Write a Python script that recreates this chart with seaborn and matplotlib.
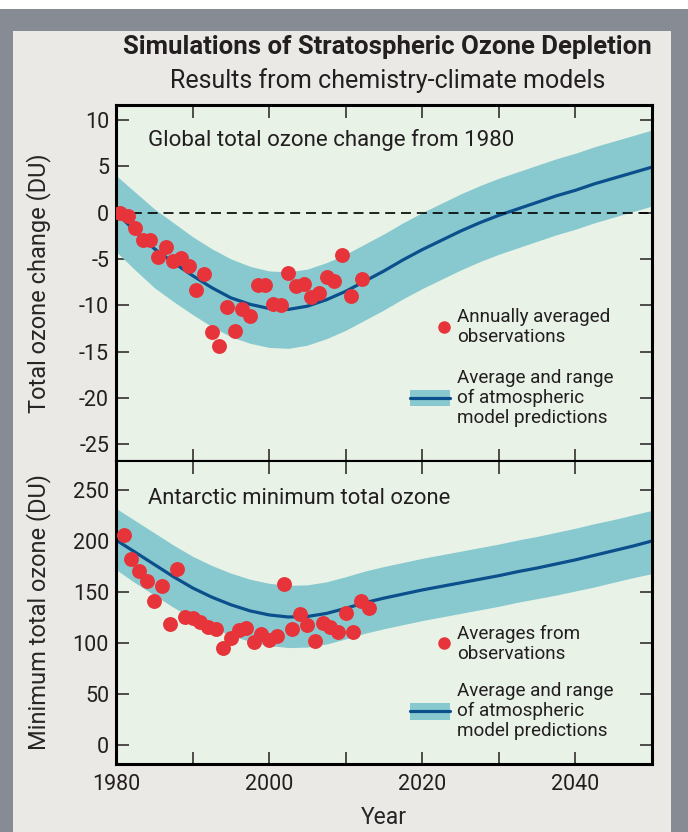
"""Simulations of stratospheric ozone depletion: two stacked panels with model band and observations."""
import matplotlib

matplotlib.use("Agg")
import matplotlib.pyplot as plt
from matplotlib.legend_handler import HandlerLine2D
from matplotlib.lines import Line2D
from matplotlib.patches import Patch, Rectangle
import seaborn as sns

# --- data ---
model_years = [1980, 1982.5, 1985, 1987.5, 1990, 1992.5, 1995, 1997.5, 2000, 2002.5,
               2005, 2007.5, 2010, 2012.5, 2015, 2017.5, 2020, 2022.5, 2025, 2027.5,
               2030, 2032.5, 2035, 2037.5, 2040, 2042.5, 2045, 2047.5, 2050]

global_mean = [0.0, -2.0, -3.9, -5.4, -6.8, -8.1, -9.2, -9.9, -10.35, -10.45,
               -10.1, -9.4, -8.5, -7.4, -6.3, -5.1, -4.0, -3.0, -2.0, -1.1,
               -0.3, 0.4, 1.1, 1.8, 2.4, 3.1, 3.7, 4.3, 4.9]
global_upper = [4.0, 2.2, 0.4, -1.1, -2.6, -3.9, -5.0, -5.8, -6.3, -6.4,
                -6.1, -5.4, -4.5, -3.4, -2.3, -1.1, 0.0, 1.0, 2.0, 2.9,
                3.7, 4.4, 5.1, 5.8, 6.4, 7.1, 7.7, 8.3, 8.9]
global_lower = [-4.2, -6.2, -8.1, -9.6, -11.0, -12.3, -13.4, -14.1, -14.55, -14.65,
                -14.3, -13.6, -12.7, -11.6, -10.5, -9.3, -8.2, -7.2, -6.2, -5.3,
                -4.5, -3.8, -3.1, -2.4, -1.8, -1.1, -0.5, 0.1, 0.7]

global_obs_years = [1980.5, 1981.6, 1982.5, 1983.5, 1984.5, 1985.5, 1986.5, 1987.5, 1988.5, 1989.5,
                    1990.5, 1991.5, 1992.5, 1993.5, 1994.5, 1995.5, 1996.5, 1997.5, 1998.5, 1999.5,
                    2000.5, 2001.5, 2002.5, 2003.5, 2004.5, 2005.5, 2006.5, 2007.5, 2008.5, 2009.5,
                    2010.7, 2012.1]
global_obs = [0.0, -0.4, -1.7, -3.0, -3.0, -4.75, -3.7, -5.2, -4.9, -5.75,
              -8.35, -6.65, -12.9, -14.4, -10.15, -12.8, -10.4, -11.2, -7.8, -7.8,
              -9.85, -10.0, -6.55, -7.9, -7.7, -9.1, -8.7, -6.9, -7.4, -4.6,
              -9.0, -7.2]

antarctic_mean = [201, 189, 177, 165, 154, 145, 137.5, 131.5, 127.5, 125.5,
                  126, 129, 134, 139.5, 144, 148, 152, 155.5, 159, 162.5,
                  166, 170, 173.5, 177.5, 181.5, 186, 190.5, 195, 200]
antarctic_upper = [232, 220, 208, 196, 185, 176, 168.5, 162.5, 158.5, 156.5,
                   157, 160, 165, 170.5, 175, 179, 183, 186.5, 190, 193.5,
                   197, 201, 204.5, 208.5, 212.5, 217, 221, 225.5, 230]
antarctic_lower = [172, 159, 147, 135, 124, 115, 107.5, 101.5, 97.5, 95.5,
                   96, 99, 104, 109.5, 114, 118, 122, 125.5, 129, 132.5,
                   136, 140, 143.5, 147, 151, 155, 159.5, 164, 168]

antarctic_obs_years = list(range(1981, 2014))
antarctic_obs = [206, 182.6, 170.3, 161, 141.5, 155.8, 118.6, 172.2, 125.8, 124.5,
                 120.8, 116, 113.6, 94.9, 105.2, 112.6, 114.6, 100.8, 108.7, 102.8,
                 107.2, 158, 114, 128.1, 117.3, 102.3, 119.8, 116, 110.7, 129.4,
                 111, 141.2, 134]

year_ticks = list(range(1980, 2051, 10))
year_labels = ["1980", "", "2000", "", "2020", "", "2040", ""]

# --- style ---
RED = "#e6343a"
BAND = "#88c9cf"
BLUE = "#0b4f8c"
INK = "#231f20"
PANEL_BG = "#e8f2e7"

sns.set_theme(style="white")
plt.rcParams["font.family"] = ["Liberation Sans Narrow", "Roboto", "DejaVu Sans"]
plt.rcParams["axes.unicode_minus"] = False
plt.rcParams["text.color"] = INK


class RightDotHandler(HandlerLine2D):
    """Legend dot drawn near the right end of the key box, as in the original."""

    def get_xdata(self, legend, xdescent, ydescent, width, height, fontsize):
        # the single marker sits at the middle of this span
        x0 = -xdescent + 0.72 * width
        x1 = -xdescent + width
        return [x0, x1], [0.5 * (x0 + x1)]


fig = plt.figure(figsize=(6.88, 8.32), dpi=100, facecolor="white")
fig.patches.append(Rectangle((0, 0), 1, 1 - 9 / 832, transform=fig.transFigure,
                             facecolor="#878c94", edgecolor="none", zorder=-2))
fig.patches.append(Rectangle((13 / 688, 0), (671 - 13) / 688, 1 - 31 / 832, transform=fig.transFigure,
                             facecolor="#ebe9e5", edgecolor="none", zorder=-1))

left, width = 116 / 688, (652 - 116) / 688
ax_top = fig.add_axes([left, 1 - 461 / 832, width, (461 - 105) / 832])
ax_bot = fig.add_axes([left, 1 - 764 / 832, width, (764 - 461) / 832])


def draw_panel(ax, mean, upper, lower, obs_years, obs):
    ax.set_facecolor(PANEL_BG)
    ax.fill_between(model_years, lower, upper, color=BAND, linewidth=0, zorder=1)
    sns.lineplot(x=model_years, y=mean, color=BLUE, linewidth=2.3, ax=ax, zorder=2)
    sns.scatterplot(x=obs_years, y=obs, color=RED, s=115, linewidth=0, ax=ax, zorder=3)
    ax.set_xlim(1980, 2050)
    ax.set_xticks(year_ticks)
    for side in ax.spines.values():
        side.set_color("black")
        side.set_linewidth(2.2)
        side.set_visible(True)
    ax.tick_params(axis="both", which="major", direction="in", length=9, width=1.1,
                   color=INK, labelsize=15.5, labelcolor=INK, pad=5,
                   left=True, right=True, top=True, bottom=True)
    ax.tick_params(axis="x", pad=7)


draw_panel(ax_top, global_mean, global_upper, global_lower, global_obs_years, global_obs)
ax_top.axhline(0, color="black", linestyle=(0, (6, 3.5)), linewidth=1.2, zorder=2)
ax_top.set_ylim(-26.8, 11.6)
ax_top.set_yticks(range(-25, 11, 5))
ax_top.tick_params(labelbottom=False)
ax_top.spines["bottom"].set_linewidth(1.5)
ax_top.set_ylabel("Total ozone change (DU)", fontsize=17)
ax_top.yaxis.set_label_coords(-0.122, 0.5)
ax_top.text(0.06, 0.902, "Global total ozone change from 1980", transform=ax_top.transAxes,
            fontsize=16, va="center", ha="left")

draw_panel(ax_bot, antarctic_mean, antarctic_upper, antarctic_lower, antarctic_obs_years, antarctic_obs)
ax_bot.set_ylim(-18.6, 278.4)
ax_bot.set_yticks(range(0, 251, 50))
ax_bot.set_xticklabels(year_labels)
ax_bot.spines["top"].set_linewidth(1.5)
ax_bot.set_ylabel("Minimum total ozone (DU)", fontsize=17)
ax_bot.yaxis.set_label_coords(-0.122, 0.5)
ax_bot.set_xlabel("Year", fontsize=16.5, labelpad=8)
ax_bot.text(0.06, 0.875, "Antarctic minimum total ozone", transform=ax_bot.transAxes,
            fontsize=15.8, va="center", ha="left")

# legends
band_handle = (Patch(facecolor=BAND, edgecolor="none"), Line2D([], [], color=BLUE, linewidth=2.3))
for ax, obs_label, anchor_y, spacing in [(ax_top, "Annually averaged\nobservations", 0.43, 1.2),
                                         (ax_bot, "Averages from\nobservations", 0.46, 1.0)]:
    dot = Line2D([], [], marker="o", color=RED, linestyle="none", markersize=8)
    leg = ax.legend([dot, band_handle],
                    [obs_label, "Average and range\nof atmospheric\nmodel predictions"],
                    loc="upper left", bbox_to_anchor=(0.549, anchor_y), frameon=False,
                    fontsize=13.6, handlelength=2.1, handleheight=0.95, handletextpad=0.4,
                    labelspacing=spacing, borderpad=0, borderaxespad=0,
                    handler_map={dot: RightDotHandler()})
    for t in leg.get_texts():
        t.set_linespacing(1.15)

fig.text(387 / 688, 1 - 47 / 832, "Simulations of Stratospheric Ozone Depletion",
         fontsize=18.5, fontweight="bold", ha="center", va="center")
fig.text(388 / 688, 1 - 81 / 832, "Results from chemistry-climate models",
         fontsize=18, ha="center", va="center")

fig.savefig("out.png", dpi=100)
